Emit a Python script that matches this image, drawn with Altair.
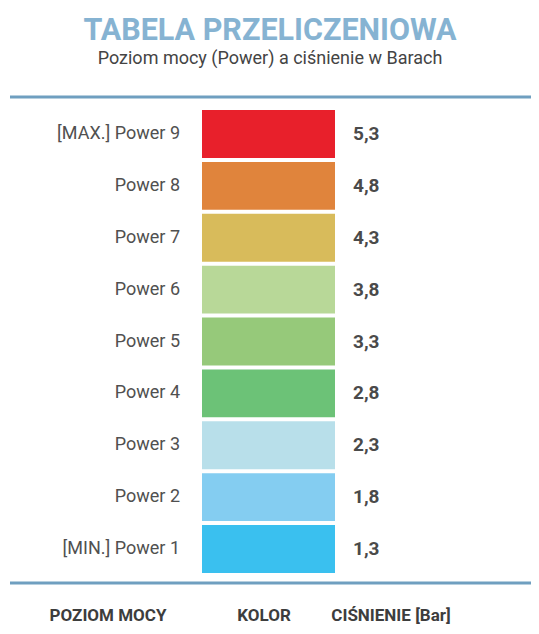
import altair as alt
import pandas as pd

levels = ["[MAX.] Power 9", "Power 8", "Power 7", "Power 6", "Power 5",
          "Power 4", "Power 3", "Power 2", "[MIN.] Power 1"]
pressures = ["5,3", "4,8", "4,3", "3,8", "3,3", "2,8", "2,3", "1,8", "1,3"]
colors = ["#e8202b", "#e0843c", "#d8bb5b", "#b8d898", "#96c97a",
          "#6cc277", "#b8dfea", "#84cdf1", "#3ac0ef"]

title_text = "TABELA PRZELICZENIOWA"
subtitle_text = "Poziom mocy (Power) a ciśnienie w Barach"
headers = ["POZIOM MOCY", "KOLOR", "CIŚNIENIE [Bar]"]

FONT = "Roboto, sans-serif"

df = pd.DataFrame({"level": levels, "pressure": pressures, "color": colors})

yscale = alt.Scale(domain=levels, range=[100, 567], paddingInner=0.077, paddingOuter=0.04)
Y = alt.Y("level:N", scale=yscale, axis=None, sort=levels)

bars = alt.Chart(df).mark_rect().encode(
    y=Y,
    x=alt.value(194), x2=alt.value(327),
    color=alt.Color("color:N", scale=None),
)

labels = alt.Chart(df).mark_text(
    align="right", baseline="middle", font=FONT, fontSize=18, color="#505050"
).encode(y=Y, x=alt.value(172), text="level:N")

vals = alt.Chart(df).mark_text(
    align="left", baseline="middle", font=FONT, fontSize=19, fontWeight="bold", color="#4a4a4a"
).encode(y=Y, x=alt.value(345), text="pressure:N")

one = pd.DataFrame({"a": [0]})

title = alt.Chart(one).mark_text(
    text=title_text, align="center", baseline="alphabetic", font=FONT,
    fontSize=30.5, fontWeight="bold", color="#86b3d2"
).encode(x=alt.value(262), y=alt.value(32))

subtitle = alt.Chart(one).mark_text(
    text=subtitle_text, align="center", baseline="alphabetic", font=FONT,
    fontSize=18, color="#444444"
).encode(x=alt.value(262), y=alt.value(56))

top_rule = alt.Chart(one).mark_rule(color="#6f9fc0", strokeWidth=3).encode(
    x=alt.value(2), x2=alt.value(523), y=alt.value(89))
bot_rule = alt.Chart(one).mark_rule(color="#6f9fc0", strokeWidth=3).encode(
    x=alt.value(2), x2=alt.value(523), y=alt.value(575))

hdr_x = [100, 256, 383]
hdr_layers = [
    alt.Chart(one).mark_text(
        text=h, align="center", baseline="alphabetic", font=FONT,
        fontSize=17, fontWeight="bold", color="#3d3d3d"
    ).encode(x=alt.value(x), y=alt.value(613))
    for h, x in zip(headers, hdr_x)
]

chart = alt.layer(
    top_rule, bot_rule, bars, labels, vals, title, subtitle, *hdr_layers
).properties(
    width=523, height=618, padding=0,
    autosize=alt.AutoSizeParams(type="fit", contains="padding"),
    background="white",
).configure_view(stroke=None)

chart.save("out.html", embed_options={"renderer": "svg", "actions": False})
